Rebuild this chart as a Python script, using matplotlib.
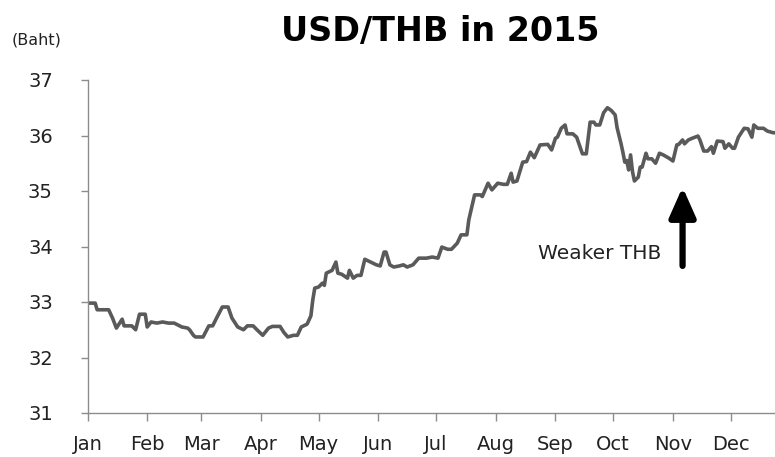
import numpy as np
import pandas as pd
import matplotlib
matplotlib.use("Agg")
import matplotlib.pyplot as plt

# day of year 2015 and USD/THB rate
day = [1, 5, 6, 12, 14, 16, 19, 20, 24, 26, 28, 31, 32, 34, 37, 40, 43, 46, 50, 53,
       54, 56, 57, 61, 64, 66, 68, 71, 74, 76, 79, 82, 84, 87, 89, 92, 95, 97, 101, 103,
       105, 108, 110, 112, 115, 117, 118, 119, 121, 123, 124, 125, 128, 130, 131, 133, 136, 137, 139, 141,
       143, 145, 148, 151, 153, 155, 156, 158, 160, 163, 165, 167, 170, 173, 177, 180, 183, 185, 188, 190,
       193, 195, 198, 199, 201, 202, 205, 206, 209, 211, 214, 217, 219, 221, 222, 224, 227, 229, 231, 233,
       236, 240, 242, 244, 245, 247, 249, 250, 253, 255, 257, 258, 260, 262, 264, 265, 267, 269, 271, 273,
       275, 276, 278, 279, 280, 281, 282, 283, 284, 285, 287, 288, 289, 291, 292, 294, 296, 298, 300, 303,
       305, 307, 308, 310, 311, 313, 315, 318, 319, 321, 323, 325, 326, 328, 331, 332, 334, 336, 337, 339,
       342, 344, 346, 347, 349, 352, 354, 357, 358]
rate = [32.98, 32.98, 32.86, 32.86, 32.71, 32.53, 32.69, 32.57, 32.57, 32.50, 32.78, 32.78, 32.55, 32.64, 32.62, 32.64, 32.62, 32.62, 32.55, 32.53,
        32.50, 32.40, 32.37, 32.37, 32.57, 32.57, 32.71, 32.91, 32.91, 32.71, 32.55, 32.50, 32.57, 32.57, 32.50, 32.40, 32.53, 32.56, 32.56, 32.45,
        32.37, 32.40, 32.40, 32.55, 32.60, 32.75, 33.04, 33.25, 33.27, 33.34, 33.30, 33.52, 33.57, 33.72, 33.52, 33.50, 33.43, 33.57, 33.43, 33.48,
        33.48, 33.77, 33.72, 33.67, 33.65, 33.90, 33.90, 33.67, 33.63, 33.65, 33.67, 33.63, 33.67, 33.79, 33.79, 33.81, 33.79, 33.99, 33.95, 33.95,
        34.06, 34.21, 34.21, 34.48, 34.78, 34.93, 34.93, 34.90, 35.14, 35.02, 35.14, 35.12, 35.12, 35.32, 35.16, 35.18, 35.52, 35.53, 35.70, 35.60,
        35.83, 35.84, 35.74, 35.95, 35.97, 36.13, 36.19, 36.03, 36.03, 35.97, 35.77, 35.67, 35.67, 36.24, 36.24, 36.19, 36.19, 36.41, 36.50, 36.45,
        36.37, 36.14, 35.86, 35.70, 35.52, 35.55, 35.38, 35.65, 35.35, 35.18, 35.25, 35.43, 35.43, 35.68, 35.58, 35.58, 35.50, 35.68, 35.65, 35.59,
        35.54, 35.83, 35.84, 35.92, 35.85, 35.92, 35.95, 35.99, 35.92, 35.72, 35.72, 35.80, 35.68, 35.90, 35.89, 35.77, 35.85, 35.77, 35.77, 35.97,
        36.13, 36.12, 35.97, 36.19, 36.13, 36.13, 36.08, 36.05, 36.05]
months = ["Jan", "Feb", "Mar", "Apr", "May", "Jun", "Jul", "Aug", "Sep", "Oct", "Nov", "Dec"]
y_ticks = [31, 32, 33, 34, 35, 36, 37]

dates = pd.Timestamp("2015-01-01") + pd.to_timedelta(np.array(day) - 1, unit="D")
month_starts = pd.date_range("2015-01-01", periods=12, freq="MS")

fig = plt.figure(figsize=(7.75, 4.57), dpi=100)
ax = fig.add_axes([87.5 / 775, 44 / 457, 1 - 87.5 / 775, 333 / 457])

ax.plot(dates, rate, color="#5a5a5a", lw=2.6, solid_joinstyle="round")

ax.set_ylim(31, 37)
ax.set_yticks(y_ticks)
ax.set_xlim(pd.Timestamp("2015-01-01"), dates[-1])
ax.set_xticks(month_starts)
ax.set_xticklabels(months)

for s in ["top", "right"]:
    ax.spines[s].set_visible(False)
for s in ["left", "bottom"]:
    ax.spines[s].set_color("#8c8c8c")
    ax.spines[s].set_linewidth(1.0)
ax.tick_params(axis="both", colors="#8c8c8c", labelcolor="#222222", labelsize=14, length=5, width=1)
ax.tick_params(axis="y", pad=20)
ax.tick_params(axis="x", pad=10, length=6)

fig.text(440 / 775, 1 - 31 / 457, "USD/THB in 2015", ha="center", va="center",
         fontsize=24, fontweight="bold", color="black")
fig.text(12 / 775, 1 - 40 / 457, "(Baht)", ha="left", va="center", fontsize=11.5, color="#222222")

# arrow + note
ax.annotate("", xy=(pd.Timestamp("2015-11-06"), 35.12), xytext=(pd.Timestamp("2015-11-06"), 33.6),
            arrowprops=dict(arrowstyle="-|>,head_length=1.8,head_width=0.8", color="black", lw=4.5))
ax.text(pd.Timestamp("2015-10-26"), 33.88, "Weaker THB", ha="right", va="center", fontsize=14.5, color="#222222")

fig.savefig("out.png", dpi=100)
